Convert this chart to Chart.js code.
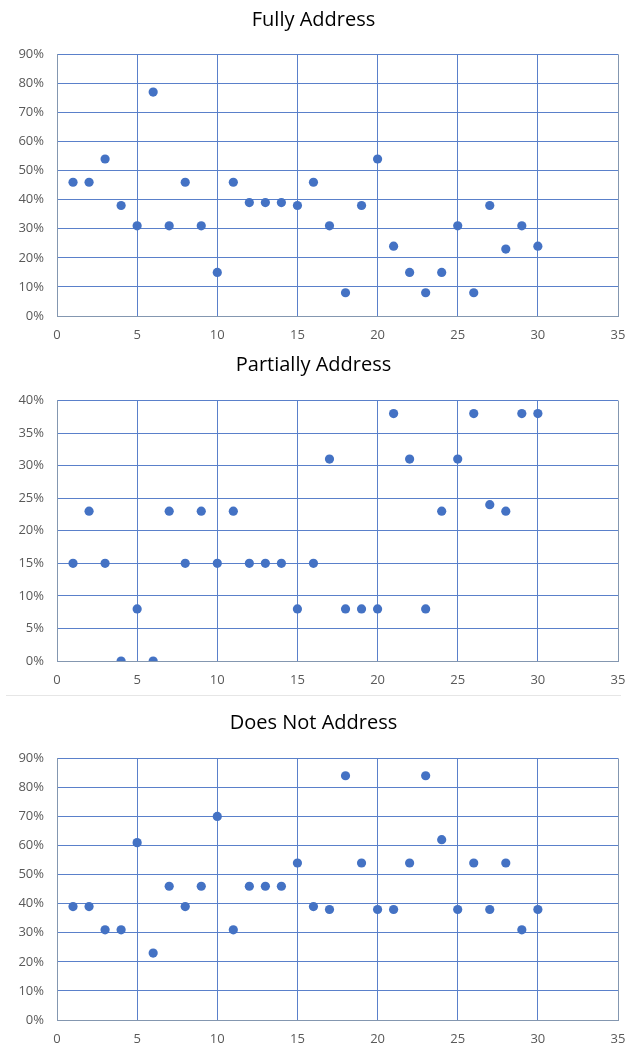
<!DOCTYPE html>
<html>
<head>
<meta charset="utf-8">
<title>Address charts</title>
<script src="https://cdn.jsdelivr.net/npm/chart.js@4.4.0/dist/chart.umd.min.js"></script>
<style>
    body { margin: 0; background: #fff; }
    .wrap { position: absolute; left: 0; width: 627px; }
    .sep { position: absolute; left: 6px; width: 615px; top: 695px; height: 1px; background: #e6e6e6; }
</style>
</head>
<body>
<div class="wrap" style="top:0px;height:345px"><canvas id="fullyChart" width="627" height="345"></canvas></div>
<div class="wrap" style="top:345px;height:350px"><canvas id="partialChart" width="627" height="350"></canvas></div>
<div class="sep"></div>
<div class="wrap" style="top:696px;height:350px"><canvas id="notChart" width="627" height="350"></canvas></div>

<script>
// question numbers 1..30
const questions = [1, 2, 3, 4, 5, 6, 7, 8, 9, 10, 11, 12, 13, 14, 15, 16, 17, 18, 19, 20, 21, 22, 23, 24, 25, 26, 27, 28, 29, 30];

// percentages
const fullyAddress = [46, 46, 54, 38, 31, 77, 31, 46, 31, 15, 46, 39, 39, 39, 38, 46, 31, 8, 38, 54, 24, 15, 8, 15, 31, 8, 38, 23, 31, 24];
const partiallyAddress = [15, 23, 15, 0, 8, 0, 23, 15, 23, 15, 23, 15, 15, 15, 8, 15, 31, 8, 8, 8, 38, 31, 8, 23, 31, 38, 24, 23, 38, 38];
const doesNotAddress = [39, 39, 31, 31, 61, 23, 46, 39, 46, 70, 31, 46, 46, 46, 54, 39, 38, 84, 54, 38, 38, 54, 84, 62, 38, 54, 38, 54, 31, 38];

const xTicks = [0, 5, 10, 15, 20, 25, 30, 35];
const yTicksWide = [0, 10, 20, 30, 40, 50, 60, 70, 80, 90];
const yTicksNarrow = [0, 5, 10, 15, 20, 25, 30, 35, 40];

const pointColor = '#4472C4';
const gridColor = '#5A80CA';
const labelColor = '#595959';
const edgeColor = '#8497B0';

function makeChart(id, title, values, yTicks, titlePad, xAxisHeight) {
    const ctx = document.getElementById(id).getContext('2d');
    const points = questions.map((q, i) => ({ x: q, y: values[i] }));
    const yMax = yTicks[yTicks.length - 1];
    const yStep = yTicks[1] - yTicks[0];
    const xMax = xTicks[xTicks.length - 1];

    return new Chart(ctx, {
        type: 'scatter',
        data: {
            datasets: [{
                label: title,
                data: points,
                backgroundColor: pointColor,
                borderColor: pointColor,
                pointRadius: 4.6,
                pointHoverRadius: 4.6,
                borderWidth: 0
            }]
        },
        options: {
            responsive: false,
            animation: false,
            devicePixelRatio: 1,
            layout: { padding: 0 },
            plugins: {
                legend: { display: false },
                tooltip: { enabled: false },
                title: {
                    display: true,
                    text: title,
                    color: '#000',
                    font: { family: 'Open Sans', size: 20, weight: 'normal' },
                    padding: titlePad
                }
            },
            scales: {
                x: {
                    type: 'linear',
                    min: 0,
                    max: xMax,
                    afterBuildTicks: axis => { axis.ticks = xTicks.map(v => ({ value: v })); },
                    grid: {
                        // right edge of the plot is grey-blue like the axes
                        color: c => (c.tick && c.tick.value === xMax) ? edgeColor : gridColor,
                        lineWidth: 1,
                        drawTicks: false
                    },
                    border: { color: edgeColor, width: 1 },
                    ticks: {
                        color: labelColor,
                        font: { family: 'Open Sans', size: 13 },
                        padding: 11,
                        maxRotation: 0
                    },
                    // plot area ends at 618px, leave room only for the "35" label
                    afterFit: axis => {
                        axis.height = xAxisHeight;
                        axis.paddingRight = 9;
                        axis.paddingLeft = 0;
                    }
                },
                y: {
                    min: 0,
                    max: yMax,
                    ticks: {
                        stepSize: yStep,
                        color: labelColor,
                        font: { family: 'Open Sans', size: 13 },
                        padding: 13,
                        callback: value => value + '%'
                    },
                    grid: { color: gridColor, lineWidth: 1, drawTicks: false },
                    border: { color: edgeColor, width: 1 },
                    afterFit: axis => { axis.width = 57; }
                }
            }
        }
    });
}

document.addEventListener('DOMContentLoaded', function() {
    makeChart('fullyChart', 'Fully Address', fullyAddress, yTicksWide, { top: 8, bottom: 22.3 }, 29);
    makeChart('partialChart', 'Partially Address', partiallyAddress, yTicksNarrow, { top: 8, bottom: 23.5 }, 34);
    makeChart('notChart', 'Does Not Address', doesNotAddress, yTicksWide, { top: 15.5, bottom: 22.8 }, 26);
});
</script>
</body>
</html>
